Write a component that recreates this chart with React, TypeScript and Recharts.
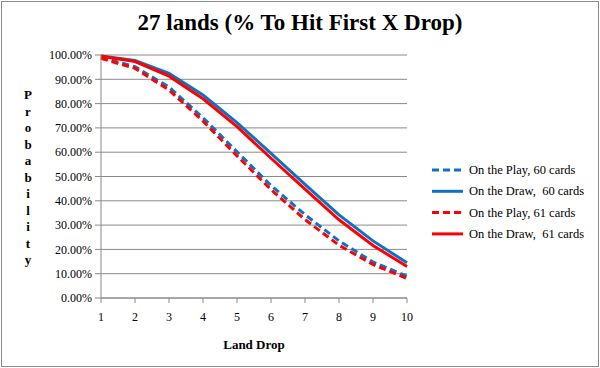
import React from "react";
import { LineChart, Line, XAxis, YAxis, CartesianGrid, Label } from "recharts";

const landDrops = [1, 2, 3, 4, 5, 6, 7, 8, 9, 10];
const playSixty = [99.0, 95.2, 86.8, 74.2, 60.2, 46.3, 34.3, 23.5, 14.8, 9.0];
const drawSixty = [99.6, 97.8, 92.4, 83.5, 72.2, 59.5, 46.8, 34.2, 23.5, 14.5];
const playSixtyOne = [98.6, 94.5, 85.6, 72.8, 58.5, 44.6, 32.3, 21.7, 13.8, 8.0];
const drawSixtyOne = [99.5, 97.3, 91.3, 82.0, 70.5, 57.5, 44.8, 32.2, 21.6, 13.0];
const yTicks = [0, 10, 20, 30, 40, 50, 60, 70, 80, 90, 100];
const seriesNames = [
  "On the Play, 60 cards",
  "On the Draw,  60 cards",
  "On the Play, 61 cards",
  "On the Draw,  61 cards",
];

const data = landDrops.map((d, i) => ({
  drop: d,
  p60: playSixty[i],
  d60: drawSixty[i],
  p61: playSixtyOne[i],
  d61: drawSixtyOne[i],
}));

const BLUE = "#1170C4";
const RED = "#FF0000";
const FONT = "'Liberation Serif', 'Times New Roman', serif";

const legendItems = [
  { name: seriesNames[0], color: BLUE, dash: "7 4" },
  { name: seriesNames[1], color: BLUE, dash: "" },
  { name: seriesNames[2], color: RED, dash: "7 4" },
  { name: seriesNames[3], color: RED, dash: "" },
];

const LegendBox = () => (
  <svg width={170} height={90}>
    {legendItems.map((it, i) => (
      <g key={i} transform={`translate(0, ${10 + i * 21.3})`}>
        <line x1={2} x2={33} y1={0} y2={0} stroke={it.color} strokeWidth={3} strokeDasharray={it.dash || undefined} />
        <text x={39} y={4} fontFamily={FONT} fontSize={12.5} fill="#000" style={{ whiteSpace: "pre" }}>
          {it.name}
        </text>
      </g>
    ))}
  </svg>
);

const YLabel = () => {
  const letters = "Probability".split("");
  return (
    <text fontFamily={FONT} fontSize={13} fontWeight="bold" fill="#000" textAnchor="middle">
      {letters.map((c, i) => (
        <tspan key={i} x={28} y={99 + i * 16.5}>
          {c}
        </tspan>
      ))}
    </text>
  );
};

export default function App() {
  return (
    <div style={{ position: "absolute", left: 0, top: 0, width: 600, height: 368, background: "#fff" }}>
      <div
        style={{
          position: "absolute",
          left: 1,
          top: 1,
          width: 596,
          height: 364,
          border: "1px solid #8c8c8c",
        }}
      />
      <div
        style={{
          position: "absolute",
          left: 0,
          top: 10,
          width: 600,
          textAlign: "center",
          fontFamily: FONT,
          fontWeight: "bold",
          fontSize: 23,
          color: "#000",
        }}
      >
        27 lands (% To Hit First X Drop)
      </div>
      <div style={{ position: "absolute", left: 0, top: 0 }}>
        <LineChart width={600} height={368} data={data} margin={{ top: 55, right: 193, bottom: 40, left: 41 }}>
          <CartesianGrid vertical={false} stroke="#8a8a8a" strokeWidth={1} />
          <XAxis
            dataKey="drop"
            type="category"
            height={30}
            stroke="#8a8a8a"
            tick={{ fill: "#000", fontFamily: FONT, fontSize: 12 }}
            tickSize={5}
            tickMargin={9}
            interval={0}
          >
            <Label
              value="Land Drop"
              position="insideBottom"
              offset={-21}
              style={{ fontFamily: FONT, fontWeight: "bold", fontSize: 13, fill: "#000" }}
            />
          </XAxis>
          <YAxis
            width={60}
            domain={[0, 100]}
            ticks={yTicks}
            interval={0}
            stroke="#8a8a8a"
            tickSize={6}
            tickMargin={3}
            tick={{ fill: "#000", fontFamily: FONT, fontSize: 12 }}
            tickFormatter={(v: number) => `${v.toFixed(2)}%`}
            label={<YLabel />}
          />
          <Line dataKey="p60" name={seriesNames[0]} stroke={BLUE} strokeWidth={3} strokeDasharray="7 4" dot={false} isAnimationActive={false} />
          <Line dataKey="d60" name={seriesNames[1]} stroke={BLUE} strokeWidth={3} dot={false} isAnimationActive={false} />
          <Line dataKey="p61" name={seriesNames[2]} stroke={RED} strokeWidth={3} strokeDasharray="7 4" dot={false} isAnimationActive={false} />
          <Line dataKey="d61" name={seriesNames[3]} stroke={RED} strokeWidth={3} dot={false} isAnimationActive={false} />
        </LineChart>
      </div>
      <div style={{ position: "absolute", left: 430, top: 160 }}>
        <LegendBox />
      </div>
    </div>
  );
}
